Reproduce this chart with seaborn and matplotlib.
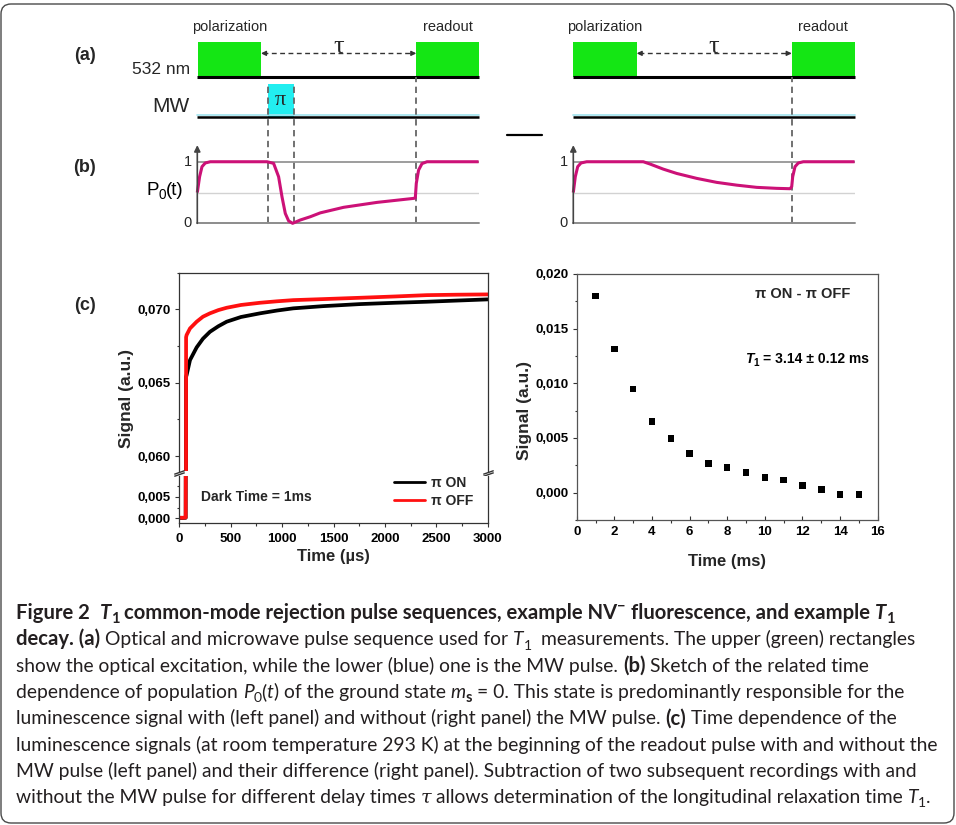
import matplotlib
matplotlib.use("Agg")
import numpy as np
import pandas as pd
import matplotlib.pyplot as plt
import seaborn as sns
from matplotlib.patches import Rectangle, FancyBboxPatch
from matplotlib.lines import Line2D
from matplotlib.path import Path
from matplotlib.ticker import FuncFormatter, MultipleLocator
from matplotlib.font_manager import FontProperties
from matplotlib.transforms import IdentityTransform

W, H, DPI = 956, 825, 100

# ---------------------------------------------------------------- data
# pulse timing of the two sequences (schematic time units)
POL_LEFT = [0.3, 63.7]
PI_LEFT = [70.3, 96.3]
READ_LEFT = [219.0, 281.3]
POL_RIGHT = [0.0, 63.4]
READ_RIGHT = [218.4, 281.3]
SEQ_END = 281.3

# sketched ground-state population P0(t), with and without the pi pulse
P0_T_LEFT = [0, 2.3, 4.7, 8, 13, 69.7, 76.3, 81.3, 84.7, 88, 91.3, 95.3, 103, 113,
             123, 146.3, 163, 179.7, 216.3, 218, 219, 221.3, 224.7, 229.7, 281.3]
P0_LEFT = [0.5, 0.757, 0.92, 0.98, 1.0, 1.0, 0.974, 0.757, 0.43, 0.16, 0.04, 0.0,
           0.054, 0.107, 0.17, 0.26, 0.30, 0.34, 0.405, 0.41, 0.65, 0.865, 0.97,
           1.0, 1.0]
P0_T_RIGHT = [0, 2, 4.4, 7.7, 13.4, 70, 76.7, 90, 103.4, 123.4, 143.4, 163.4, 183.4,
              203.4, 216.7, 218.4, 219.4, 221.7, 225, 230, 281.3]
P0_RIGHT = [0.5, 0.757, 0.92, 0.98, 1.0, 1.0, 0.963, 0.88, 0.81, 0.73, 0.665, 0.62,
            0.584, 0.568, 0.562, 0.594, 0.757, 0.92, 0.98, 1.0, 1.0]

# readout fluorescence after a 1 ms dark time
TIME_US = [0, 30, 62, 66, 71, 104, 169, 230, 298, 380, 461, 600, 785, 950,
           1109, 1400, 1758, 2100, 2407, 2700, 3000]
SIG_PI_ON = [0.00010, 0.00008, 0.00012, 0.06540, 0.06552, 0.06654, 0.06741,
             0.06800, 0.06847, 0.06885, 0.06916, 0.06948, 0.06973, 0.06992,
             0.07007, 0.07022, 0.07036, 0.07045, 0.07052, 0.07060, 0.07068]
SIG_PI_OFF = [0.00015, 0.00012, 0.00018, 0.06810, 0.06825, 0.06870, 0.06916,
              0.06950, 0.06973, 0.06995, 0.07011, 0.07030, 0.07045, 0.07055,
              0.07063, 0.07070, 0.07079, 0.07088, 0.07097, 0.07100, 0.07102]
STATES = ["\u03c0 ON", "\u03c0 OFF"]

# pi ON - pi OFF difference versus delay time
DELAY_MS = [1, 2, 3, 4, 5, 6, 7, 8, 9, 10, 11, 12, 13, 14, 15]
DIFF = [0.01801, 0.01313, 0.00946, 0.00653, 0.00495, 0.00357, 0.00269, 0.00229,
        0.00183, 0.00140, 0.00116, 0.00064, 0.00027, -0.00018, -0.00018]

# ---------------------------------------------------------------- style
sns.set_theme(style="ticks")
plt.rcParams.update({
    "font.family": ["Liberation Sans", "DejaVu Sans"],
    "axes.edgecolor": "#333333",
    "axes.linewidth": 0.9,
    "xtick.direction": "out",
    "ytick.direction": "out",
    "xtick.major.size": 3.0,
    "ytick.major.size": 3.0,
    "xtick.minor.size": 1.8,
    "ytick.minor.size": 1.8,
    "xtick.major.width": 0.8,
    "ytick.major.width": 0.8,
    "xtick.minor.width": 0.8,
    "ytick.minor.width": 0.8,
    "xtick.color": "#333333",
    "ytick.color": "#333333",
    "xtick.labelcolor": "black",
    "ytick.labelcolor": "black",
})

GREEN = "#14e614"
CYAN = "#22eef0"
MAGENTA = "#cc1177"
CAPTION_FONT = ["Lato", "DejaVu Sans"]
CAPTION_COLOR = "#231f20"
SERIF = ["Liberation Serif", "DejaVu Serif"]
BOLD_SCALE = 1.05  # the caption's bold face runs a little wider

fig = plt.figure(figsize=(W / DPI, H / DPI), dpi=DPI)
renderer = fig.canvas.get_renderer()


def add_axes_px(left, top, right, bottom):
    return fig.add_axes([left / W, 1 - bottom / H, (right - left) / W, (bottom - top) / H])


def ftext(x, y, s, **kw):
    return fig.text(x / W, 1 - y / H, s, **kw)


def text_width(s, prop):
    w_full = renderer.get_text_width_height_descent("|" + s + "|", prop, ismath=False)[0]
    w_bars = renderer.get_text_width_height_descent("||", prop, ismath=False)[0]
    return w_full - w_bars


def make_prop(style, size, family, bold_scale=1.0):
    tokens = style.split()
    sub = "sub" in tokens or "sup" in tokens
    bold = "b" in tokens
    fam = ["DejaVu Serif"] if "serif" in tokens else family
    fs = size * (0.72 if sub else 1.0) * (bold_scale if bold else 1.0)
    return FontProperties(family=fam, size=fs,
                          weight="bold" if bold else "normal",
                          style="italic" if "i" in tokens else "normal")


def draw_runs(x, y, runs, size, family, color="black", bold_scale=1.0):
    """Write styled pieces of text one after another; x, y = left / baseline in px."""
    for text, style in runs:
        tokens = style.split()
        prop = make_prop(style, size, family, bold_scale)
        sp = text_width(" ", prop)
        body = text.strip(" ")
        lead = len(text) - len(text.lstrip(" "))
        trail = len(text) - len(text.rstrip(" "))
        x += lead * sp
        dy = 0.0
        if "sub" in tokens:
            dy = 0.22 * size * DPI / 72
        elif "sup" in tokens:
            dy = -0.42 * size * DPI / 72
        if body:
            ftext(x, y + dy, body, fontproperties=prop, color=color, va="baseline", ha="left")
            x += text_width(body, prop)
        x += trail * sp
    return x


# ---------------------------------------------------------------- (a), (b) pulse sketches
LASER_BASE, LASER_TOP = 2.37, 2.95
TAU_Y = 2.76
MW_BASE, MW_TOP = 1.73, 2.27
AXIS_TOP = 1.27


def pulse_panel(left_px, pol, readout, t_curve, p_curve, pi=None):
    ax = add_axes_px(left_px, 20.1, left_px + SEQ_END, 230.1)

    # optical excitation
    for a, b in (pol, readout):
        ax.add_patch(Rectangle((a, LASER_BASE), b - a, LASER_TOP - LASER_BASE,
                               fc=GREEN, ec="none", clip_on=False))
    ax.plot([0, SEQ_END], [LASER_BASE, LASER_BASE], color="black", lw=2.2,
            solid_capstyle="butt", clip_on=False)
    ax.text(np.mean(pol), 3.19, "polarization", ha="center", va="center", fontsize=10.5)
    ax.text(np.mean(readout), 3.19, "readout", ha="center", va="center", fontsize=10.5)

    # dark interval tau
    ax.plot([pol[1] + 2, readout[0] - 2], [TAU_Y, TAU_Y], ls=(0, (3.5, 2.5)),
            color="#333333", lw=1.0)
    for start, end in ((pol[1] + 5, pol[1]), (readout[0] - 5, readout[0])):
        ax.annotate("", xy=(end, TAU_Y), xytext=(start, TAU_Y),
                    arrowprops=dict(arrowstyle="-|>", color="#333333", lw=1.0,
                                    mutation_scale=7, shrinkA=0, shrinkB=0))
    ax.text((pol[1] + readout[0]) / 2, 2.86, "\u03c4", ha="center", va="center",
            fontsize=19, family=SERIF)

    # microwave line
    ax.plot([0, SEQ_END], [MW_BASE + 0.035, MW_BASE + 0.035], color="#9fe3ee", lw=1.2,
            clip_on=False)
    ax.plot([0, SEQ_END], [MW_BASE, MW_BASE], color="black", lw=1.8,
            solid_capstyle="butt", clip_on=False)
    if pi is not None:
        ax.add_patch(Rectangle((pi[0], MW_BASE), pi[1] - pi[0], MW_TOP - MW_BASE,
                               fc=CYAN, ec="none"))
        ax.text(np.mean(pi), 1.99, "\u03c0", ha="center", va="center", fontsize=16,
                family=SERIF)
        for t in pi:
            ax.plot([t, t], [0, MW_TOP], ls=(0, (3.5, 2.5)), color="#666666", lw=1.3)
    ax.plot([readout[0], readout[0]], [0, LASER_BASE], ls=(0, (3.5, 2.5)),
            color="#666666", lw=1.3)

    # population axes
    ax.plot([0, SEQ_END], [0.5, 0.5], color="#d2d2d2", lw=1.0)
    ax.plot([0, SEQ_END], [1, 1], color="#8c8c8c", lw=1.2)
    ax.plot([0, SEQ_END], [0, 0], color="#8c8c8c", lw=1.4, clip_on=False)
    ax.annotate("", xy=(0, AXIS_TOP), xytext=(0, 0),
                arrowprops=dict(arrowstyle="-|>", color="#444444", lw=1.2,
                                mutation_scale=9, shrinkA=0, shrinkB=0))
    ax.text(-5, 1, "1", ha="right", va="center", fontsize=10.5)
    ax.text(-6, 0, "0", ha="right", va="center", fontsize=10.5)

    sns.lineplot(x=t_curve, y=p_curve, color=MAGENTA, lw=2.2, estimator=None,
                 sort=False, ax=ax)
    ax.lines[-1].set_clip_on(False)
    ax.lines[-1].set_solid_capstyle("butt")
    ax.set_xlim(0, SEQ_END)
    ax.set_ylim(-0.11, 3.30)
    ax.axis("off")
    return ax


ax_sl = pulse_panel(197.3, POL_LEFT, READ_LEFT, P0_T_LEFT, P0_LEFT, pi=PI_LEFT)
ax_sr = pulse_panel(573.3, POL_RIGHT, READ_RIGHT, P0_T_RIGHT, P0_RIGHT)

# minus sign between the two sketches
ax_sl.plot([310, 345], [1.435, 1.435], color="black", lw=1.6, clip_on=False)

ftext(85, 56, "(a)", fontsize=13, fontweight="bold", ha="center", va="center")
ftext(190, 70, "532 nm", fontsize=12.5, ha="right", va="center")
ftext(190, 106, "MW", fontsize=15, ha="right", va="center")
ftext(85, 168, "(b)", fontsize=13, fontweight="bold", ha="center", va="center")
draw_runs(146, 195, [("P", ""), ("0", "sub"), ("(t)", "")], 13.5, ["Liberation Sans"])

# ---------------------------------------------------------------- (c) left: fluorescence traces
ftext(85, 306, "(c)", fontsize=13, fontweight="bold", ha="center", va="center")

trace_df = pd.DataFrame({
    "time": TIME_US * 2,
    "signal": SIG_PI_ON + SIG_PI_OFF,
    "state": [STATES[0]] * len(TIME_US) + [STATES[1]] * len(TIME_US),
})
palette = {STATES[0]: "black", STATES[1]: "#ff1010"}

comma = FuncFormatter(lambda v, p: ("%.3f" % (0.0 if abs(v) < 1e-12 else v)).replace(".", ","))

ax_hi = add_axes_px(179.3, 272.7, 487.7, 470.7)
ax_lo = add_axes_px(179.3, 476.0, 487.7, 523.3)
for ax in (ax_hi, ax_lo):
    sns.lineplot(data=trace_df, x="time", y="signal", hue="state", hue_order=STATES,
                 palette=palette, estimator=None, sort=False, lw=2.7, legend=False, ax=ax)
    ax.set_xlim(0, 3000)
    ax.set_xlabel("")
    ax.set_ylabel("")
    for side in ("top", "right", "left", "bottom"):
        ax.spines[side].set_visible(True)
    ax.yaxis.set_major_locator(MultipleLocator(0.005))
    ax.yaxis.set_minor_locator(MultipleLocator(0.0025))
    ax.yaxis.set_major_formatter(comma)
    ax.tick_params(axis="y", which="both", right=False, labelsize=9.5, pad=3.5)
ax_hi.set_ylim(0.0590, 0.0725)
ax_lo.set_ylim(-0.00116, 0.0098)
ax_hi.spines["bottom"].set_visible(False)
ax_lo.spines["top"].set_visible(False)
ax_hi.tick_params(axis="x", which="both", bottom=False, top=False, labelbottom=False)
ax_lo.xaxis.set_major_locator(MultipleLocator(500))
ax_lo.xaxis.set_minor_locator(MultipleLocator(250))
ax_lo.tick_params(axis="x", which="both", top=False, labelsize=9.5, pad=4)
for ax in (ax_hi, ax_lo):
    for lab in ax.get_yticklabels() + ax.get_xticklabels():
        lab.set_fontweight("bold")

# axis-break marks
brk = Path([(-1, -0.15), (1, 0.55), (-1, -0.55), (1, 0.15)],
           [Path.MOVETO, Path.LINETO, Path.MOVETO, Path.LINETO])
gap_y = -(473.3 - 470.7) / (470.7 - 272.7)
ax_hi.plot([0, 1], [gap_y, gap_y], transform=ax_hi.transAxes, ls="none", marker=brk,
           ms=7.5, mew=1.0, mec="#333333", clip_on=False)

legend_handles = [Line2D([], [], color=palette[s], lw=2.0) for s in STATES]
leg = ax_lo.legend(legend_handles, STATES, loc="center left",
                   bbox_to_anchor=((394 - 179.3) / 308.4, (523.3 - 492) / 47.3),
                   frameon=False, handlelength=2.2, handletextpad=0.45,
                   labelspacing=0.3, borderpad=0, borderaxespad=0,
                   prop=FontProperties(family=["Liberation Sans", "DejaVu Sans"],
                                       weight="bold", size=10))
ax_lo.text((200.7 - 179.3) / 308.4, (523.3 - 496.7) / 47.3, "Dark Time = 1ms",
           transform=ax_lo.transAxes, ha="left", va="center", fontsize=10,
           fontweight="bold")

ftext(126.7, 398, "Signal (a.u.)", rotation=90, ha="center", va="center",
      fontsize=12.5, fontweight="bold")
ftext(333.3, 556.7, "Time (\u00b5s)", ha="center", va="center", fontsize=12,
      fontweight="bold")

# ---------------------------------------------------------------- (c) right: difference signal
ax_d = add_axes_px(576.7, 274.0, 877.7, 520.0)
sns.scatterplot(x=DELAY_MS, y=DIFF, marker="s", s=22, color="black",
                edgecolor="none", ax=ax_d)
ax_d.set_xlim(0, 16)
ax_d.set_ylim(-0.0025, 0.020)
for side in ("top", "right", "left", "bottom"):
    ax_d.spines[side].set_visible(True)
    ax_d.spines[side].set_color("#555555")
ax_d.xaxis.set_major_locator(MultipleLocator(2))
ax_d.xaxis.set_minor_locator(MultipleLocator(1))
ax_d.yaxis.set_major_locator(MultipleLocator(0.005))
ax_d.yaxis.set_minor_locator(MultipleLocator(0.0025))
ax_d.yaxis.set_major_formatter(comma)
ax_d.tick_params(axis="both", which="both", top=False, right=False, labelsize=9.5)
ax_d.tick_params(axis="y", pad=2.5)
ax_d.tick_params(axis="x", direction="in", pad=4)
for lab in ax_d.get_yticklabels() + ax_d.get_xticklabels():
    lab.set_fontweight("bold")
ax_d.set_xlabel("")
ax_d.set_ylabel("")
ax_d.text(0.752, 0.917, "\u03c0 ON - \u03c0 OFF", transform=ax_d.transAxes,
          ha="center", va="center", fontsize=10.5, fontweight="bold")
draw_runs(745, 363, [("T", "b i"), ("1", "b sub"), (" = 3.14 \u00b1 0.12 ms", "b")],
          10, ["Liberation Sans", "DejaVu Sans"])

ftext(524.5, 410, "Signal (a.u.)", rotation=90, ha="center", va="center",
      fontsize=12.5, fontweight="bold")
ftext(726.7, 561.7, "Time (ms)", ha="center", va="center", fontsize=12,
      fontweight="bold")

# ---------------------------------------------------------------- caption
caption = [
    [("Figure 2", "b"), (" ", "b"), ("T", "b i"), ("1", "b sub"),
     (" common-mode rejection pulse sequences, example NV", "b"), ("\u2212", "b sup"),
     (" fluorescence, and example ", "b"), ("T", "b i"), ("1", "b sub")],
    [("decay. (a)", "b"), (" Optical and microwave pulse sequence used for ", ""),
     ("T", "i"), ("1", "sub"), ("  measurements. The upper (green) rectangles", "")],
    [("show the optical excitation, while the lower (blue) one is the MW pulse. ", ""),
     ("(b)", "b"), (" Sketch of the related time", "")],
    [("dependence of population ", ""), ("P", "i"), ("0", "sub"), ("(", ""), ("t", "i"),
     (") of the ground state ", ""), ("m", "i"), ("s", "b sub"),
     (" = 0. This state is predominantly responsible for the", "")],
    [("luminescence signal with (left panel) and without (right panel) the MW pulse. ", ""),
     ("(c)", "b"), (" Time dependence of the", "")],
    [("luminescence signals (at room temperature 293 K) at the beginning of the readout "
      "pulse with and without the", "")],
    [("MW pulse (left panel) and their difference (right panel). Subtraction of two "
      "subsequent recordings with and", "")],
    [("without the MW pulse for different delay times ", ""), ("\u03c4", "i serif"),
     (" allows determination of the longitudinal relaxation time ", ""), ("T", "i"),
     ("1", "sub"), (".", "")],
]
ref_prop = FontProperties(family=CAPTION_FONT, size=10)
cap_size = 10 * 926 / text_width(caption[5][0][0], ref_prop)
for i, runs in enumerate(caption):
    draw_runs(16, 619 + 26.3 * i, runs, cap_size, CAPTION_FONT, CAPTION_COLOR,
              bold_scale=BOLD_SCALE)

# rounded frame around the figure
fig.add_artist(FancyBboxPatch((1.0, 2.0), 953.0, 819.0,
                              boxstyle="round,pad=0,rounding_size=10",
                              transform=IdentityTransform(), fill=False,
                              ec="#4a4a4a", lw=1.0))

fig.savefig("out.png", dpi=DPI)
